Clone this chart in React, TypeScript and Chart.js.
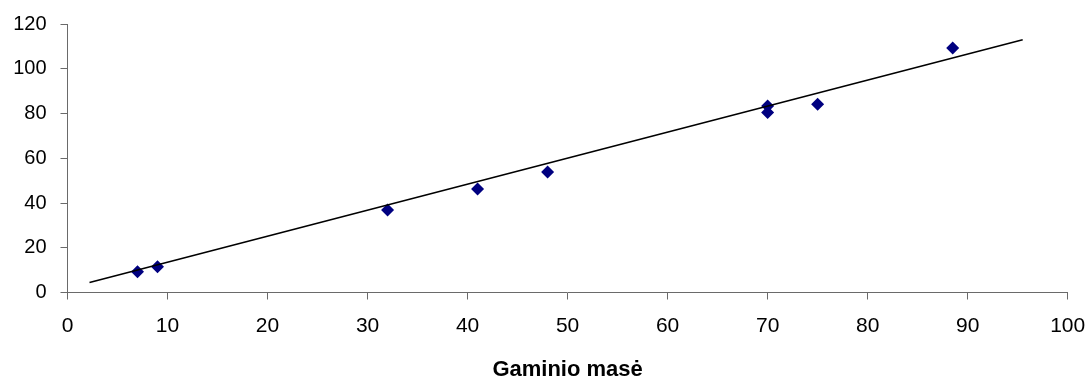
import React, { useEffect, useRef } from "react";
import { Chart, registerables } from "chart.js";

Chart.register(...registerables);

// Measured points (x: Gaminio masė, y: value)
const massValues = [7, 9, 32, 41, 48, 70, 70, 75, 88.5];
const yValues = [9.3, 11.5, 36.9, 46.3, 53.9, 83.4, 80.4, 84.1, 109.3];

// Linear trend line endpoints
const trendX = [2.2, 95.5];
const trendY = [4.5, 113];

const xTitle = "Gaminio masė";
const xRange = [0, 100];
const xStep = 10;
const yRange = [0, 120];
const yStep = 20;

const FONT = "'Liberation Sans', Arial, sans-serif";
const AXIS_COLOR = "#6a6a6a";

export default function App() {
  const ref = useRef<HTMLCanvasElement | null>(null);

  useEffect(() => {
    if (!ref.current) return;
    const chart = new Chart(ref.current, {
      type: "scatter",
      data: {
        datasets: [
          {
            label: "Trend",
            data: trendX.map((x, i) => ({ x, y: trendY[i] })),
            showLine: true,
            borderColor: "#000000",
            borderWidth: 1.6,
            pointRadius: 0,
            order: 1,
          },
          {
            label: "Data",
            data: massValues.map((x, i) => ({ x, y: yValues[i] })),
            pointStyle: "rectRot",
            pointRadius: 6.5,
            backgroundColor: "#000080",
            borderColor: "#000080",
            borderWidth: 0,
            showLine: false,
            order: 2,
          },
        ],
      },
      options: {
        responsive: false,
        animation: false,
        layout: { padding: { top: 24, right: 23.3, left: 0, bottom: 0 } },
        plugins: {
          legend: { display: false },
          tooltip: { enabled: false },
        },
        scales: {
          x: {
            type: "linear",
            position: "bottom",
            min: xRange[0],
            max: xRange[1],
            ticks: {
              stepSize: xStep,
              color: "#000",
              padding: 14,
              maxRotation: 0,
              autoSkip: false,
              font: { family: FONT, size: 21 },
            },
            grid: {
              drawOnChartArea: false,
              drawTicks: true,
              tickLength: 7,
              tickColor: AXIS_COLOR,
              tickWidth: 1,
            },
            border: { display: true, color: AXIS_COLOR, width: 1 },
            title: {
              display: true,
              text: xTitle,
              color: "#000",
              font: { family: FONT, size: 22, weight: "bold", lineHeight: 1.1 },
              padding: { top: 0, bottom: 0 },
            },
            afterFit: (axis: any) => {
              axis.height = 89.5;
              axis.paddingLeft = 0;
              axis.paddingRight = 0;
            },
          },
          y: {
            type: "linear",
            min: yRange[0],
            max: yRange[1],
            ticks: {
              stepSize: yStep,
              color: "#000",
              padding: 14,
              font: { family: FONT, size: 20 },
            },
            grid: {
              drawOnChartArea: false,
              drawTicks: true,
              tickLength: 7,
              tickColor: AXIS_COLOR,
              tickWidth: 1,
            },
            border: { display: true, color: AXIS_COLOR, width: 1 },
            afterFit: (axis: any) => {
              axis.width = 67.5;
              axis.paddingTop = 0;
              axis.paddingBottom = 0;
            },
          },
        },
      },
    } as any);
    return () => chart.destroy();
  }, []);

  return (
    <div style={{ position: "fixed", left: 0, top: 0, width: 1091, height: 382, background: "#fff" }}>
      <canvas ref={ref} width={1091} height={382} style={{ display: "block" }} />
    </div>
  );
}
